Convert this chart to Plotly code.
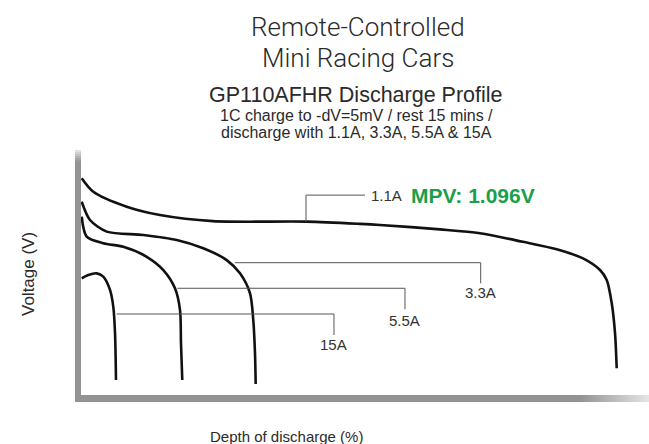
import plotly.graph_objects as go

# ---------------- data (depth of discharge %, voltage V) ----------------
dod_1_1A = [0.13, 2.30, 8.53, 14.74, 24.63, 42.12, 52.07, 55.80, 67.00, 74.46, 82.49, 88.78, 93.68, 96.86, 98.11, 99.04, 99.66, 99.97]
v_1_1A   = [1.384, 1.335, 1.281, 1.251, 1.229, 1.227, 1.219, 1.215, 1.199, 1.185, 1.154, 1.127, 1.094, 1.052, 1.016, 0.933, 0.824, 0.697]

dod_3_3A = [0.13, 1.68, 4.80, 11.63, 17.86, 22.82, 27.19, 29.67, 31.54, 32.15, 32.47, 32.60]
v_3_3A   = [1.299, 1.233, 1.191, 1.179, 1.161, 1.131, 1.088, 1.040, 0.968, 0.871, 0.751, 0.640]

dod_5_5A = [0.13, 1.06, 4.16, 7.89, 12.26, 15.36, 17.54, 18.48, 18.66, 18.90]
v_5_5A   = [1.245, 1.173, 1.149, 1.136, 1.100, 1.052, 0.986, 0.907, 0.787, 0.654]

dod_15A = [0.13, 1.36, 2.93, 4.16, 5.41, 6.03, 6.35, 6.53]
v_15A   = [1.022, 1.034, 1.040, 1.028, 0.980, 0.919, 0.823, 0.654]

series_names = ["1.1A", "3.3A", "5.5A", "15A"]
series_x = [dod_1_1A, dod_3_3A, dod_5_5A, dod_15A]
series_y = [v_1_1A, v_3_3A, v_5_5A, v_15A]

# leader lines (label callouts): x and y paths in data units
callout_x = {
    "1.1A": [41.99, 41.99, 53.0],
    "3.3A": [28.74, 74.59, 74.59],
    "5.5A": [17.97, 60.46, 60.46],
    "15A":  [6.66, 47.21, 47.21],
}
callout_y = {
    "1.1A": [1.227, 1.323, 1.323],
    "3.3A": [1.0785, 1.0785, 1.004],
    "5.5A": [0.986, 0.986, 0.910],
    "15A":  [0.893, 0.893, 0.817],
}
label_pos = {
    "3.3A": (74.59, 0.9707),
    "5.5A": (60.46, 0.871),
    "15A":  (47.21, 0.781),
}
mpv_text = "MPV: 1.096V"

title_lines = ["Remote-Controlled", "Mini Racing Cars"]
chart_title = "GP110AFHR Discharge Profile"
sub_lines = ["1C charge to -dV=5mV / rest 15 mins /", "discharge with 1.1A, 3.3A, 5.5A & 15A"]
x_title = "Depth of discharge (%)"
y_title = "Voltage (V)"

# ---------------- layout helpers ----------------
W, H = 649, 444
L, R, T, B = 81, 649, 160, 395  # plot area in pixels


def px(x):
    return (x - L) / (R - L)


def py(y):
    return (B - y) / (B - T)


fig = go.Figure()

for nm, xs, ys in zip(series_names, series_x, series_y):
    fig.add_trace(go.Scatter(x=xs, y=ys, mode="lines", name=nm,
                             line=dict(color="#111111", width=2.6, shape="spline", smoothing=0.8),
                             hoverinfo="skip", showlegend=False, cliponaxis=False))

for nm in series_names:
    fig.add_trace(go.Scatter(x=callout_x[nm], y=callout_y[nm], mode="lines",
                             line=dict(color="#555555", width=1),
                             hoverinfo="skip", showlegend=False, cliponaxis=False))

shapes = []
AX = "#939393"
# left bar
shapes.append(dict(type="rect", xref="paper", yref="paper", x0=px(75), x1=px(81), y0=py(402), y1=py(160),
                   fillcolor=AX, line=dict(width=0), layer="below"))
fade_top = ["#e2e2e2", "#d2d2d2", "#c2c2c2", "#b2b2b2", "#a4a4a4", "#9a9a9a"]
for i, c in enumerate(fade_top):
    shapes.append(dict(type="rect", xref="paper", yref="paper", x0=px(75), x1=px(81),
                       y0=py(150 + 2 * (i + 1)), y1=py(150 + 2 * i), fillcolor=c, line=dict(width=0), layer="below"))
# bottom bar
shapes.append(dict(type="rect", xref="paper", yref="paper", x0=px(75), x1=px(580), y0=py(402), y1=py(395),
                   fillcolor=AX, line=dict(width=0), layer="below"))
n = 23
for i in range(n):
    g = int(0x93 + (0xe6 - 0x93) * (i + 0.5) / n)
    col = "#%02x%02x%02x" % (g, g, g)
    shapes.append(dict(type="rect", xref="paper", yref="paper", x0=px(580 + 3 * i), x1=px(580 + 3 * (i + 1)),
                       y0=py(402), y1=py(395), fillcolor=col, line=dict(width=0), layer="below"))

anns = []
TXT = "#2a2a2a"
SANS = "Liberation Sans, Arial"
title_font = dict(family="Roboto", size=26, color=TXT, weight=300)
anns.append(dict(text=title_lines[0], x=px(358), y=py(27), font=title_font))
anns.append(dict(text=title_lines[1], x=px(358), y=py(58), font=title_font))
anns.append(dict(text=chart_title, x=px(356), y=py(95), font=dict(family=SANS, size=21.5, color=TXT)))
anns.append(dict(text=sub_lines[0], x=px(356), y=py(116), font=dict(family=SANS, size=16, color=TXT)))
anns.append(dict(text=sub_lines[1], x=px(356), y=py(132.5), font=dict(family=SANS, size=16, color=TXT)))
for a in anns:
    a.update(xref="paper", yref="paper", showarrow=False, xanchor="center", yanchor="middle")

lab_font = dict(family=SANS, size=15, color="#333333")
fig.add_annotation(text="1.1A", x=callout_x["1.1A"][-1] + 0.7, y=callout_y["1.1A"][-1], xanchor="left",
                   yanchor="middle", showarrow=False, font=lab_font)
fig.add_annotation(text="<b>" + mpv_text + "</b>", x=px(409), y=py(195), xref="paper", yref="paper",
                   xanchor="left", yanchor="middle", showarrow=False,
                   font=dict(family=SANS, size=21, color="#1a9f4b"))
for nm, (lx, ly) in label_pos.items():
    fig.add_annotation(text=nm, x=lx, y=ly, xanchor="center", yanchor="middle", showarrow=False, font=lab_font)

anns.append(dict(text=x_title, x=px(286), y=py(436), xref="paper", yref="paper", showarrow=False,
                 xanchor="center", yanchor="middle", font=dict(family=SANS, size=15, color=TXT)))
anns.append(dict(text=y_title, x=px(28), y=py(274), xref="paper", yref="paper", showarrow=False, textangle=-90,
                 xanchor="center", yanchor="middle", font=dict(family=SANS, size=17, color=TXT)))

for a in anns:
    fig.add_annotation(**a)

fig.update_layout(
    width=W, height=H,
    margin=dict(l=L, r=W - R, t=T, b=H - B, pad=0),
    paper_bgcolor="white", plot_bgcolor="white",
    shapes=shapes,
    xaxis=dict(range=[0, 106], visible=False, fixedrange=True),
    yaxis=dict(range=[0.6, 1.45], visible=False, fixedrange=True),
    showlegend=False,
)

fig.write_html("out.html", config={"displayModeBar": False},
               post_script="document.body.style.margin='0px';document.body.style.overflow='hidden';")
